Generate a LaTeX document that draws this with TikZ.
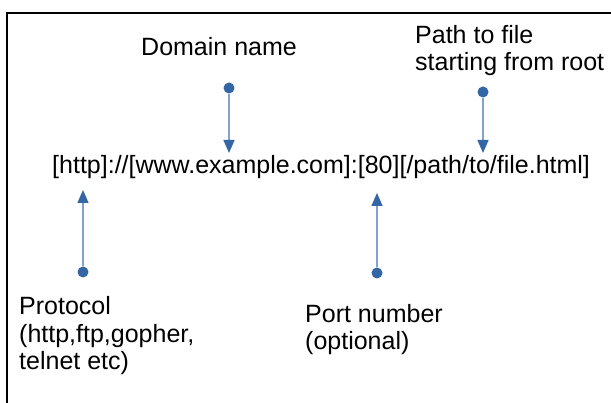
\documentclass[tikz,border=0pt]{standalone}
\usepackage{fontspec}
\setmainfont{Liberation Sans}
\usetikzlibrary{arrows.meta}
\definecolor{dotblue}{HTML}{3465A4}
\definecolor{lineblue}{HTML}{7FA3D3}
\begin{document}
\begin{tikzpicture}[x=1pt,y=-1pt,
  lbl/.style={anchor=base west, inner sep=0pt, font=\fontsize{25}{27.5}\selectfont, align=left},
  dotnode/.style={circle, fill=dotblue, inner sep=0pt, minimum size=11pt},
  pointer/.style={draw=lineblue, line width=1.5pt, -{Triangle[length=13pt,width=11pt,color=dotblue]}}]
\useasboundingbox (0,0) rectangle (611,403);
\draw[line width=2pt] (6.5,403) -- (6.5,13) -- (611,13);
\node[lbl] (dom) at (141,55.5) {Domain name};
\node[lbl] (path) at (415,71) {Path to file\\starting from root};
\node[lbl] (url) at (52,174) {[http]://[www.example.com]:[80][/path/to/file.html]};
\node[lbl] (proto) at (19,370) {Protocol\\(http,ftp,gopher,\\telnet etc)};
\node[lbl] (port) at (305,350) {Port number\\(optional)};
\node[dotnode] (d1) at (229,88) {};
\node[dotnode] (d2) at (483,92) {};
\node[dotnode] (d3) at (83,272) {};
\node[dotnode] (d4) at (377,273) {};
\coordinate (t1) at (229,153);
\coordinate (t2) at (483,153);
\coordinate (t3) at (83,190);
\coordinate (t4) at (377,193);
\draw[pointer] (d1) -- (t1);
\draw[pointer] (d2) -- (t2);
\draw[pointer] (d3) -- (t3);
\draw[pointer] (d4) -- (t4);
\end{tikzpicture}
\end{document}
